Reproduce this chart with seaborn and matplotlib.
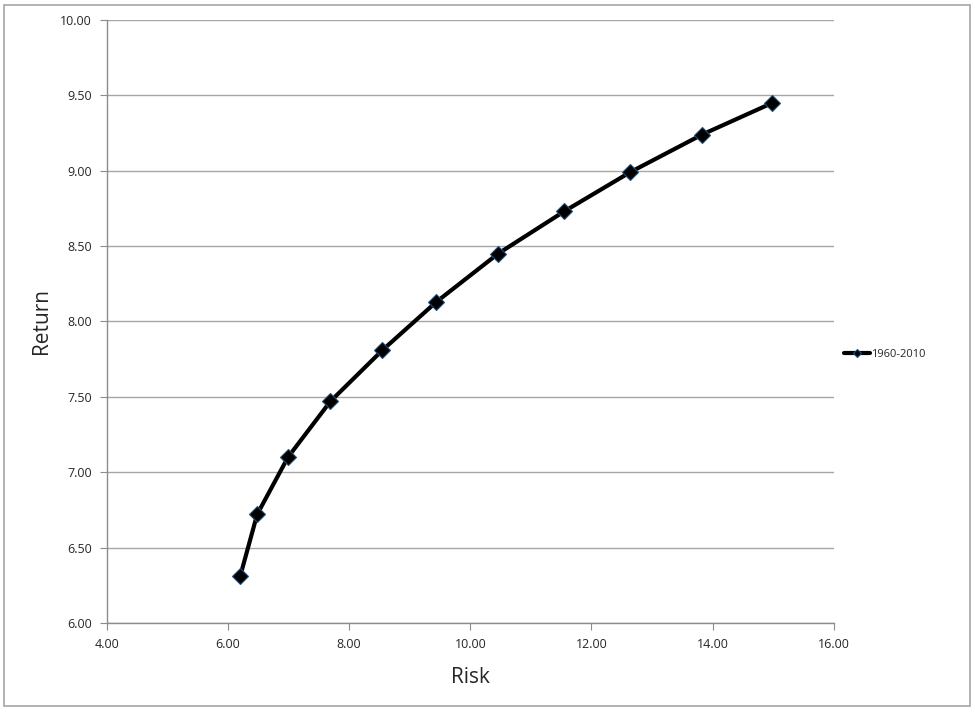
import pandas as pd
import matplotlib.pyplot as plt
import seaborn as sns
from matplotlib.patches import Rectangle

# Efficient frontier points
risk = [6.20, 6.48, 6.99, 7.69, 8.55, 9.44, 10.46, 11.55, 12.64, 13.83, 14.99]
ret = [6.31, 6.72, 7.10, 7.47, 7.81, 8.13, 8.45, 8.73, 8.99, 9.24, 9.45]
series_name = "1960-2010"

df = pd.DataFrame({"Risk": risk, "Return": ret, "series": series_name})

sns.set_style("white")
plt.rcParams['font.family'] = ['Open Sans', 'DejaVu Sans']

fig = plt.figure(figsize=(9.75, 7.12), dpi=100)
ax = fig.add_axes([0.1097, 0.125, 0.7453, 0.847])

sns.lineplot(data=df, x="Risk", y="Return", hue="series", palette=["black"],
             marker="D", markersize=8, markeredgecolor="#1f4e79",
             markeredgewidth=0.8, linewidth=3, sort=False, ax=ax)

ax.set_xlim(4, 16)
ax.set_ylim(6, 10)
ax.set_xticks([4, 6, 8, 10, 12, 14, 16])
ax.set_yticks([6.0, 6.5, 7.0, 7.5, 8.0, 8.5, 9.0, 9.5, 10.0])
ax.xaxis.set_major_formatter(plt.FormatStrFormatter('%.2f'))
ax.yaxis.set_major_formatter(plt.FormatStrFormatter('%.2f'))
ax.yaxis.grid(True, color="#a6a6a6", linewidth=1)
ax.set_axisbelow(True)
for s in ["top", "right"]:
    ax.spines[s].set_visible(False)
for s in ["left", "bottom"]:
    ax.spines[s].set_color("#8c8c8c")
    ax.spines[s].set_linewidth(1)
ax.tick_params(axis="both", which="major", labelsize=9, direction="out",
               length=5, color="#8c8c8c", pad=6, left=True, bottom=True)
ax.set_xlabel("Risk", fontsize=15, labelpad=11)
ax.set_ylabel("Return", fontsize=15, labelpad=6)

leg = ax.legend(loc="center left", bbox_to_anchor=(1.0, 0.446), frameon=False,
                fontsize=8, handlelength=2.4, handletextpad=0.1, markerscale=0.55)

fig.patches.append(Rectangle((0.004, 0.008), 0.991, 0.985, transform=fig.transFigure,
                             fill=False, edgecolor="#a6a6a6", linewidth=1.2))

fig.savefig("out.png", dpi=100)
